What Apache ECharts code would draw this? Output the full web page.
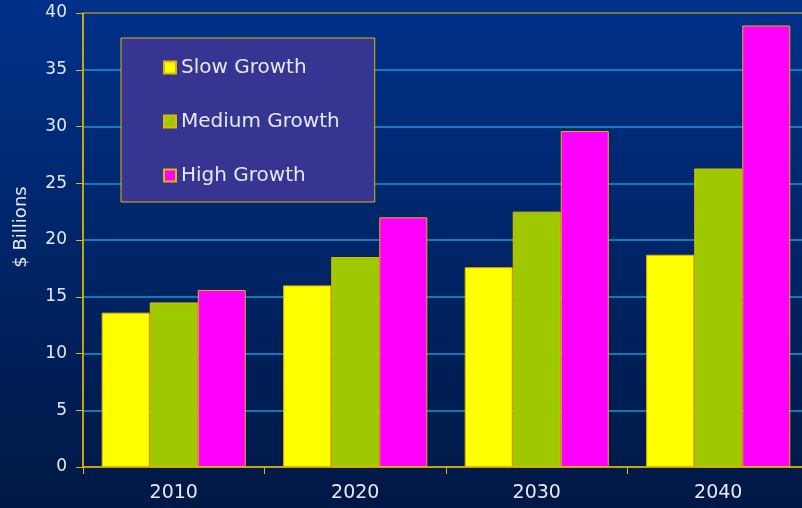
<!DOCTYPE html>
<html>
<head>
<meta charset="utf-8">
<script src="https://cdn.jsdelivr.net/npm/echarts@6/dist/echarts.min.js"></script>
<style>
  html, body { margin: 0; padding: 0; }
  #chart { width: 802px; height: 508px; }
</style>
</head>
<body>
<div id="chart"></div>
<script>
// Projected spending by growth scenario, $ billions
const years = ['2010', '2020', '2030', '2040'];
const slowGrowth = [13.6, 16.0, 17.6, 18.7];
const mediumGrowth = [14.5, 18.5, 22.5, 26.3];
const highGrowth = [15.6, 22.0, 29.6, 38.9];
const yTicks = { min: 0, max: 40, interval: 5 };

const gold = '#e0b800';
const textColor = '#e6e8f2';
const font = 'DejaVu Sans, Verdana, sans-serif';

const chart = echarts.init(document.getElementById('chart'), null, { renderer: 'canvas' });

function barSeries(name, data, color) {
  return {
    name: name,
    type: 'bar',
    data: data,
    barGap: '0%',
    barCategoryGap: '20.6%',
    itemStyle: { color: color, borderColor: gold, borderWidth: 1 },
    emphasis: { disabled: true }
  };
}

chart.setOption({
  animation: false,
  backgroundColor: {
    type: 'linear', x: 0, y: 0, x2: 0, y2: 1,
    colorStops: [
      { offset: 0, color: '#00318a' },
      { offset: 1, color: '#001844' }
    ]
  },
  textStyle: { fontFamily: font },
  // the plot area runs a little past the right edge of the canvas
  grid: {
    left: 83, top: 13, width: 726, height: 454,
    containLabel: false,
    outerBoundsMode: 'none',
    show: true, borderColor: gold, borderWidth: 1, backgroundColor: 'transparent'
  },
  legend: {
    orient: 'vertical',
    left: 121, top: 38,
    backgroundColor: '#373592',
    borderColor: gold,
    borderWidth: 1,
    padding: [19, 35, 16, 42],
    icon: 'rect',
    itemWidth: 12, itemHeight: 12,
    itemGap: 33,
    textStyle: { color: textColor, fontSize: 20, fontFamily: font, lineHeight: 21 },
    data: ['Slow Growth', 'Medium Growth', 'High Growth']
  },
  xAxis: {
    type: 'category',
    data: years,
    z: 5,
    axisLine: { lineStyle: { color: gold, width: 1.5 } },
    axisTick: { show: true, length: 7, lineStyle: { color: gold } },
    axisLabel: { color: textColor, fontSize: 19, margin: 17, fontFamily: font },
    splitLine: { show: false }
  },
  yAxis: {
    type: 'value',
    min: yTicks.min, max: yTicks.max, interval: yTicks.interval,
    name: '$ Billions',
    nameLocation: 'middle',
    nameRotate: 90,
    nameGap: 53,
    // a little above the axis midpoint
    nameTextStyle: { color: textColor, fontSize: 18, fontFamily: font, padding: [0, 0, 0, 26] },
    axisLine: { show: true, lineStyle: { color: gold, width: 1.5 } },
    axisTick: { show: true, length: 7, lineStyle: { color: gold } },
    axisLabel: { color: textColor, fontSize: 17, margin: 16, fontFamily: font },
    splitLine: {
      show: true, showMinLine: false, showMaxLine: false,
      lineStyle: { color: '#1598d2', width: 1.5 }
    }
  },
  series: [
    barSeries('Slow Growth', slowGrowth, '#ffff00'),
    barSeries('Medium Growth', mediumGrowth, '#9ec800'),
    barSeries('High Growth', highGrowth, '#ff00ff')
  ]
});
</script>
</body>
</html>
